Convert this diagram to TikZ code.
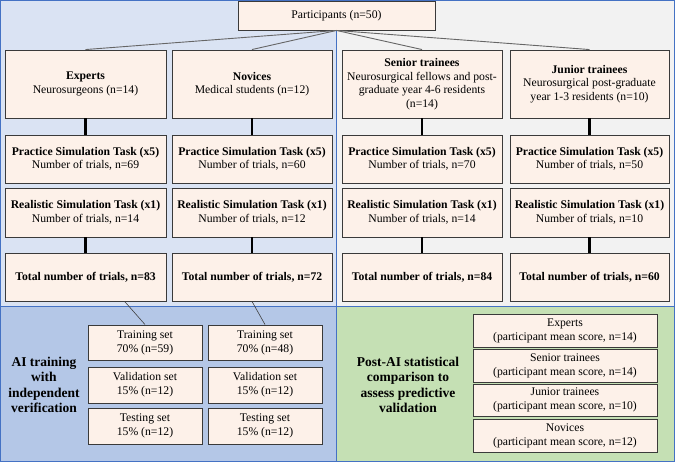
\documentclass[tikz,border=0pt]{standalone}
\usepackage{fontspec}
\setmainfont{Liberation Serif}
\definecolor{pTL}{HTML}{DAE3F3}
\definecolor{pTR}{HTML}{F2F2F2}
\definecolor{pBL}{HTML}{B4C7E7}
\definecolor{pBR}{HTML}{C5E0B4}
\definecolor{pedge}{HTML}{4472C4}
\definecolor{bfill}{HTML}{FDF1E9}
\definecolor{bedge}{HTML}{3A3A3A}
\begin{document}
\begin{tikzpicture}[x=1pt,y=-1pt,
  panel/.style={draw=pedge,line width=1pt},
  box/.style={draw=bedge,fill=bfill,line width=0.9pt,inner sep=0pt,align=center,
    font=\fontsize{11.7}{13.5}\selectfont},
  sbox/.style={box,font=\fontsize{11.7}{14}\selectfont},
  lab/.style={align=center,font=\fontsize{13.5}{15.5}\selectfont\bfseries},
  thick link/.style={line width=2.3pt,black},
  thin link/.style={draw=black!60,line width=0.9pt},
  set link/.style={draw=black!75,line width=0.6pt}]
\useasboundingbox (0,0) rectangle (675,462);
% panels
\fill[pTL] (0,0) rectangle (336,307);
\fill[pTR] (336,0) rectangle (675,307);
\fill[pBL] (0,307) rectangle (336,462);
\fill[pBR] (336,307) rectangle (675,462);
\draw[panel] (0.5,0.5) rectangle (336,307);
\draw[panel] (336,0.5) rectangle (674.5,307);
\draw[panel] (0.5,307) rectangle (336,461.5);
\draw[panel] (336,307) rectangle (674.5,461.5);
% participants
\node[box,minimum width=197pt,minimum height=29pt] (part) at (336.5,15.5) {Participants (n=50)};
% row 1
\node[box,minimum width=161pt,minimum height=68pt] (g1) at (85.5,84) {\textbf{Experts}\\Neurosurgeons (n=14)};
\node[box,minimum width=160pt,minimum height=68pt] (g2) at (252,84) {\textbf{Novices}\\Medical students (n=12)};
\node[box,minimum width=160pt,minimum height=68pt] (g3) at (422,84) {\textbf{Senior trainees}\\Neurosurgical fellows and post-\\graduate year 4-6 residents\\(n=14)};
\node[box,minimum width=159pt,minimum height=68pt] (g4) at (589.5,84) {\textbf{Junior trainees}\\Neurosurgical post-graduate\\year 1-3 residents (n=10)};
% practice
\node[box,minimum width=161pt,minimum height=48pt] (p1) at (85.5,159) {\textbf{Practice Simulation Task (x5)}\\Number of trials, n=69};
\node[box,minimum width=160pt,minimum height=48pt] (p2) at (252,159) {\textbf{Practice Simulation Task (x5)}\\Number of trials, n=60};
\node[box,minimum width=160pt,minimum height=48pt] (p3) at (422,159) {\textbf{Practice Simulation Task (x5)}\\Number of trials, n=70};
\node[box,minimum width=159pt,minimum height=48pt] (p4) at (589.5,159) {\textbf{Practice Simulation Task (x5)}\\Number of trials, n=50};
% realistic
\node[box,minimum width=161pt,minimum height=49pt] (r1) at (85.5,212.5) {\textbf{Realistic Simulation Task (x1)}\\Number of trials, n=14};
\node[box,minimum width=160pt,minimum height=49pt] (r2) at (252,212.5) {\textbf{Realistic Simulation Task (x1)}\\Number of trials, n=12};
\node[box,minimum width=160pt,minimum height=49pt] (r3) at (422,212.5) {\textbf{Realistic Simulation Task (x1)}\\Number of trials, n=14};
\node[box,minimum width=159pt,minimum height=49pt] (r4) at (589.5,212.5) {\textbf{Realistic Simulation Task (x1)}\\Number of trials, n=10};
% totals
\node[box,minimum width=161pt,minimum height=48pt] (t1) at (85.5,277) {\textbf{Total number of trials, n=83}};
\node[box,minimum width=160pt,minimum height=48pt] (t2) at (252,277) {\textbf{Total number of trials, n=72}};
\node[box,minimum width=160pt,minimum height=48pt] (t3) at (422,277) {\textbf{Total number of trials, n=84}};
\node[box,minimum width=159pt,minimum height=48pt] (t4) at (589.5,277) {\textbf{Total number of trials, n=60}};
% connectors top
\foreach \i in {1,2,3,4}{
  \draw[thin link] (part.south) -- (g\i.north);
  \draw[thick link] (g\i.south) -- (p\i.north);
  \draw[thick link] (r\i.south) -- (t\i.north);
}
% AI training sets
\node[sbox,minimum width=114pt,minimum height=35pt] (tr1) at (145,342.5) {Training set\\70\% (n=59)};
\node[sbox,minimum width=114pt,minimum height=36pt] (va1) at (145,385) {Validation set\\15\% (n=12)};
\node[sbox,minimum width=114pt,minimum height=36pt] (te1) at (145,426) {Testing set\\15\% (n=12)};
\node[sbox,minimum width=114pt,minimum height=35pt] (tr2) at (265,342.5) {Training set\\70\% (n=48)};
\node[sbox,minimum width=114pt,minimum height=36pt] (va2) at (265,385) {Validation set\\15\% (n=12)};
\node[sbox,minimum width=114pt,minimum height=36pt] (te2) at (265,426) {Testing set\\15\% (n=12)};
\draw[set link] (t1.-32.6) -- (tr1.north);
\draw[set link] (t2.south) -- (tr2.north);
\node[lab] (ailab) at (44,385) {AI training\\with\\independent\\verification};
% post-AI
\node[sbox,minimum width=184pt,minimum height=33pt] (c1) at (565,330.5) {Experts\\(participant mean score, n=14)};
\node[sbox,minimum width=184pt,minimum height=33pt] (c2) at (565,365.5) {Senior trainees\\(participant mean score, n=14)};
\node[sbox,minimum width=184pt,minimum height=32pt] (c3) at (565,400) {Junior trainees\\(participant mean score, n=10)};
\node[sbox,minimum width=184pt,minimum height=33pt] (c4) at (565,435.5) {Novices\\(participant mean score, n=12)};
\node[lab] (postlab) at (408,385) {Post-AI statistical\\comparison to\\assess predictive\\validation};
\end{tikzpicture}
\end{document}
